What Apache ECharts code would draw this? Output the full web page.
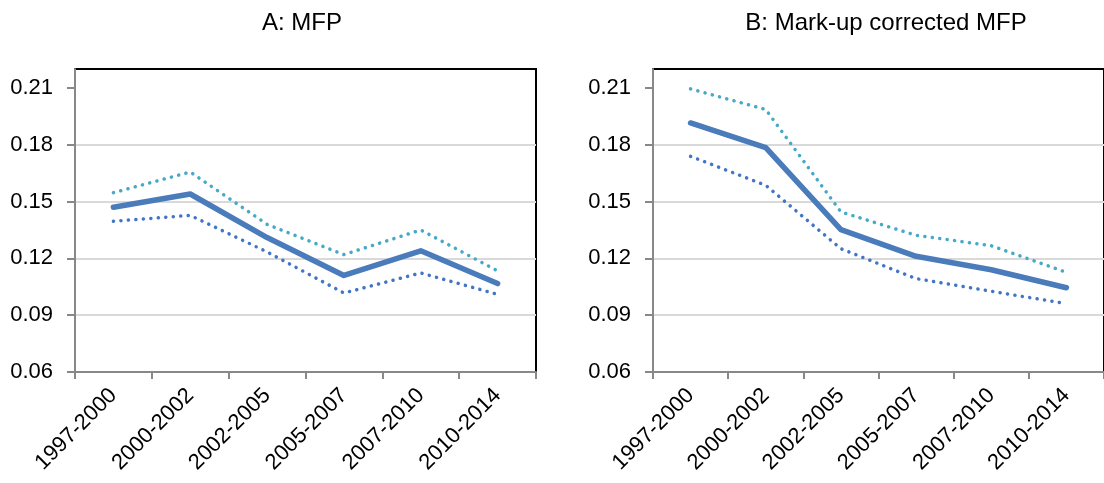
<!DOCTYPE html>
<html>
<head>
<meta charset="utf-8">
<script src="https://cdn.jsdelivr.net/npm/echarts@6/dist/echarts.min.js"></script>
<style>
html,body{margin:0;padding:0;background:#fff;}
#c{width:1104px;height:483px;}
</style>
</head>
<body>
<div id="c"></div>
<script>
const categories = ['1997-2000','2000-2002','2002-2005','2005-2007','2007-2010','2010-2014'];
const yTicks = [0.06, 0.09, 0.12, 0.15, 0.18, 0.21];
const titleA = 'A: MFP';
const titleB = 'B: Mark-up corrected MFP';
const mfpA = [0.147, 0.154, 0.131, 0.111, 0.124, 0.1067];
const mfpAUpper = [0.1547, 0.1656, 0.138, 0.122, 0.135, 0.1134];
const mfpALower = [0.1396, 0.1427, 0.1234, 0.1017, 0.1123, 0.101];
const mfpB = [0.1915, 0.1785, 0.1352, 0.1211, 0.114, 0.1045];
const mfpBUpper = [0.2095, 0.1986, 0.1445, 0.1322, 0.1267, 0.1126];
const mfpBLower = [0.1739, 0.1586, 0.1251, 0.1093, 0.1026, 0.0961];

const FONT = '"Liberation Sans", Arial, sans-serif';
const solidColor = '#4a7bbb';
const upperColor = '#45a9c7';
const lowerColor = '#4275c6';

function xAxisDef(gi){
  return {
    type:'category', gridIndex:gi, data:categories, boundaryGap:true,
    axisLine:{show:true, lineStyle:{color:'#888', width:2}},
    axisTick:{show:true, length:7, lineStyle:{color:'#888', width:2}},
    axisLabel:{rotate:45, fontFamily:FONT, fontSize:22, color:'#000', margin:20, interval:0},
    splitLine:{show:false}
  };
}
function yAxisDef(gi){
  return {
    type:'value', gridIndex:gi, min:0.06, max:0.22, interval:0.03,
    axisLine:{show:true, lineStyle:{color:'#888', width:2}},
    axisTick:{show:true, length:8, customValues:yTicks, lineStyle:{color:'#888', width:2}},
    axisLabel:{customValues:yTicks, fontFamily:FONT, fontSize:22, color:'#000', margin:22,
      formatter:v=>v.toFixed(2)},
    splitLine:{show:true, showMaxLine:false, lineStyle:{color:'#d9d9d9', width:2}}
  };
}
function lineSeries(gi, data, color, dotted){
  return {
    type:'line', xAxisIndex:gi, yAxisIndex:gi, data:data, symbol:'none', z: dotted?3:4,
    lineStyle: dotted ? {color:color, width:3.5, type:[0.1,7.4], cap:'round'}
                      : {color:color, width:5.5, cap:'round', join:'round'}
  };
}

const chart = echarts.init(document.getElementById('c'), null, {renderer:'canvas'});
chart.setOption({
  animation:false,
  backgroundColor:'#fff',
  title:[
    {text:titleA, left:297, top:6, textAlign:'center',
      textStyle:{fontFamily:FONT, fontSize:24, fontWeight:'normal', color:'#000'}},
    {text:titleB, left:881, top:6, textAlign:'center',
      textStyle:{fontFamily:FONT, fontSize:24, fontWeight:'normal', color:'#000'}}
  ],
  grid:[
    {left:75, top:69, width:461, height:303, show:true, borderColor:'#000', borderWidth:2, backgroundColor:'transparent'},
    {left:653, top:69, width:458, height:303, show:true, borderColor:'#000', borderWidth:2, backgroundColor:'transparent'}
  ],
  xAxis:[xAxisDef(0), xAxisDef(1)],
  yAxis:[yAxisDef(0), yAxisDef(1)],
  series:[
    lineSeries(0, mfpAUpper, upperColor, true),
    lineSeries(0, mfpALower, lowerColor, true),
    lineSeries(0, mfpA, solidColor, false),
    lineSeries(1, mfpBUpper, upperColor, true),
    lineSeries(1, mfpBLower, lowerColor, true),
    lineSeries(1, mfpB, solidColor, false)
  ]
});
</script>
</body>
</html>
